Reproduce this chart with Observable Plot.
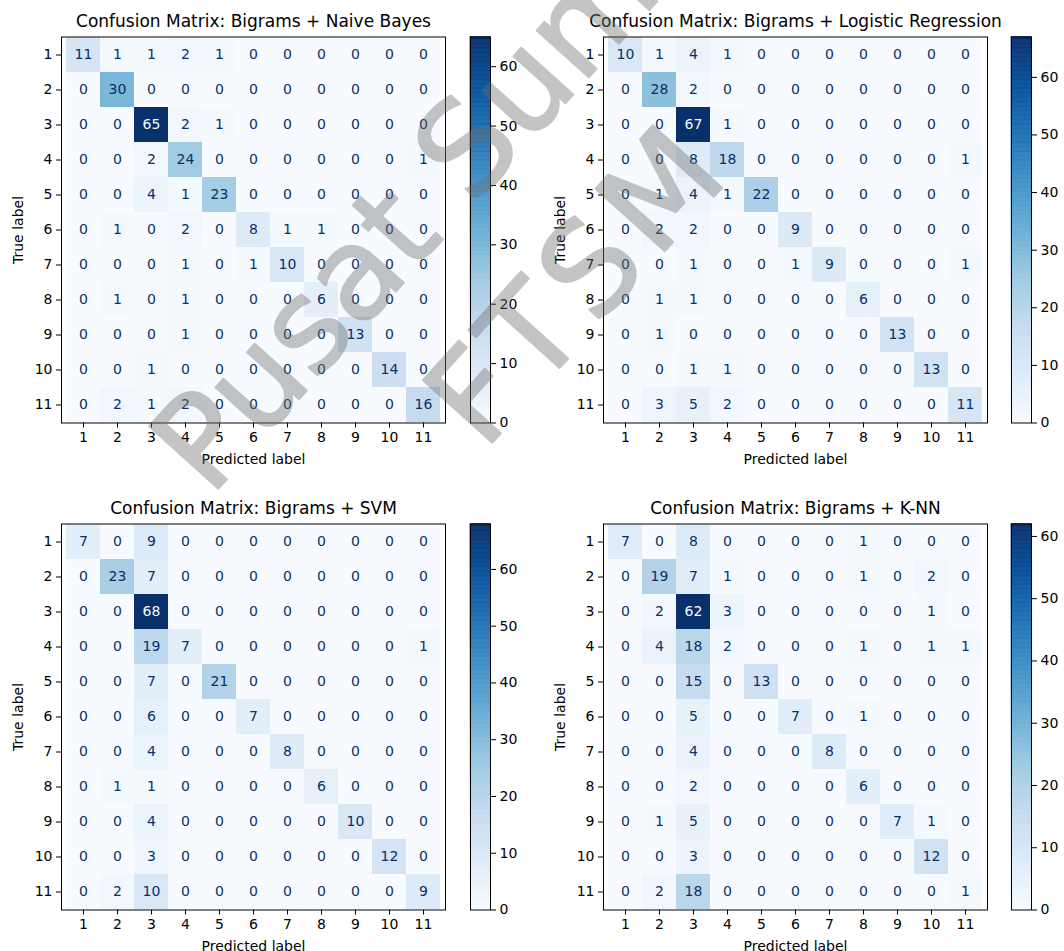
<!DOCTYPE html>
<html>
<head>
<meta charset="utf-8">
<script src="https://cdn.jsdelivr.net/npm/d3@7"></script>
<script src="https://cdn.jsdelivr.net/npm/@observablehq/plot@0.6"></script>
<style>
html, body { margin: 0; padding: 0; background: #fff; }
#chart { position: relative; width: 1064px; height: 951px; overflow: hidden; background: #fff; font-family: "DejaVu Sans"; }
#chart > svg { position: absolute; margin: 0; }
</style>
</head>
<body>
<div id="chart"></div>
<script>
// ---------- data ----------
const classLabels = ["1","2","3","4","5","6","7","8","9","10","11"];

const titles = [
  "Confusion Matrix: Bigrams + Naive Bayes",
  "Confusion Matrix: Bigrams + Logistic Regression",
  "Confusion Matrix: Bigrams + SVM",
  "Confusion Matrix: Bigrams + K-NN"
];

const naiveBayes = [
  [11, 1, 1, 2, 1, 0, 0, 0, 0, 0, 0],
  [0, 30, 0, 0, 0, 0, 0, 0, 0, 0, 0],
  [0, 0, 65, 2, 1, 0, 0, 0, 0, 0, 0],
  [0, 0, 2, 24, 0, 0, 0, 0, 0, 0, 1],
  [0, 0, 4, 1, 23, 0, 0, 0, 0, 0, 0],
  [0, 1, 0, 2, 0, 8, 1, 1, 0, 0, 0],
  [0, 0, 0, 1, 0, 1, 10, 0, 0, 0, 0],
  [0, 1, 0, 1, 0, 0, 0, 6, 0, 0, 0],
  [0, 0, 0, 1, 0, 0, 0, 0, 13, 0, 0],
  [0, 0, 1, 0, 0, 0, 0, 0, 0, 14, 0],
  [0, 2, 1, 2, 0, 0, 0, 0, 0, 0, 16]
];

const logisticRegression = [
  [10, 1, 4, 1, 0, 0, 0, 0, 0, 0, 0],
  [0, 28, 2, 0, 0, 0, 0, 0, 0, 0, 0],
  [0, 0, 67, 1, 0, 0, 0, 0, 0, 0, 0],
  [0, 0, 8, 18, 0, 0, 0, 0, 0, 0, 1],
  [0, 1, 4, 1, 22, 0, 0, 0, 0, 0, 0],
  [0, 2, 2, 0, 0, 9, 0, 0, 0, 0, 0],
  [0, 0, 1, 0, 0, 1, 9, 0, 0, 0, 1],
  [0, 1, 1, 0, 0, 0, 0, 6, 0, 0, 0],
  [0, 1, 0, 0, 0, 0, 0, 0, 13, 0, 0],
  [0, 0, 1, 1, 0, 0, 0, 0, 0, 13, 0],
  [0, 3, 5, 2, 0, 0, 0, 0, 0, 0, 11]
];

const svm = [
  [7, 0, 9, 0, 0, 0, 0, 0, 0, 0, 0],
  [0, 23, 7, 0, 0, 0, 0, 0, 0, 0, 0],
  [0, 0, 68, 0, 0, 0, 0, 0, 0, 0, 0],
  [0, 0, 19, 7, 0, 0, 0, 0, 0, 0, 1],
  [0, 0, 7, 0, 21, 0, 0, 0, 0, 0, 0],
  [0, 0, 6, 0, 0, 7, 0, 0, 0, 0, 0],
  [0, 0, 4, 0, 0, 0, 8, 0, 0, 0, 0],
  [0, 1, 1, 0, 0, 0, 0, 6, 0, 0, 0],
  [0, 0, 4, 0, 0, 0, 0, 0, 10, 0, 0],
  [0, 0, 3, 0, 0, 0, 0, 0, 0, 12, 0],
  [0, 2, 10, 0, 0, 0, 0, 0, 0, 0, 9]
];

const knn = [
  [7, 0, 8, 0, 0, 0, 0, 1, 0, 0, 0],
  [0, 19, 7, 1, 0, 0, 0, 1, 0, 2, 0],
  [0, 2, 62, 3, 0, 0, 0, 0, 0, 1, 0],
  [0, 4, 18, 2, 0, 0, 0, 1, 0, 1, 1],
  [0, 0, 15, 0, 13, 0, 0, 0, 0, 0, 0],
  [0, 0, 5, 0, 0, 7, 0, 1, 0, 0, 0],
  [0, 0, 4, 0, 0, 0, 8, 0, 0, 0, 0],
  [0, 0, 2, 0, 0, 0, 0, 6, 0, 0, 0],
  [0, 1, 5, 0, 0, 0, 0, 0, 7, 1, 0],
  [0, 0, 3, 0, 0, 0, 0, 0, 0, 12, 0],
  [0, 2, 18, 0, 0, 0, 0, 0, 0, 0, 1]
];

const xAxisLabel = "Predicted label";
const yAxisLabel = "True label";
const watermarkLines = ["Pusat Sumber", "FTSM"];

// matplotlib "Blues" anchor colours
const BLUES = ["#f7fbff","#deebf7","#c6dbef","#9ecae1","#6baed6","#4292c6","#2171b5","#08519c","#08306b"];

// ---------- layout ----------
const FW = 384, FH = 386;          // frame size of each matrix
const ML = 61, MT = 36.5, MR = 20, MB = 52;
const CBW = 20;
const panels = [
  {matrix: naiveBayes,         title: titles[0], fx: 61,    fy: 36.5,  cb: 470},
  {matrix: logisticRegression, title: titles[1], fx: 602.7, fy: 36.5,  cb: 1011},
  {matrix: svm,                title: titles[2], fx: 61,    fy: 523.3, cb: 470},
  {matrix: knn,                title: titles[3], fx: 602.7, fy: 523.3, cb: 1011}
];
const watermarkLayout = [
  {x: 210, y: 498, spacing: 0},
  {x: 484, y: 452, spacing: 9}
];

const chart = document.getElementById("chart");
const FONT = "DejaVu Sans";

function colorScale(vmin, vmax) {
  return {
    type: "linear",
    domain: BLUES.map((_, i) => vmin + i * (vmax - vmin) / (BLUES.length - 1)),
    range: BLUES,
    interpolate: "rgb",
    clamp: true
  };
}

for (const p of panels) {
  const flat = p.matrix.flat();
  const vmin = d3.min(flat), vmax = d3.max(flat);
  const thr = (vmin + vmax) / 2;
  const cells = p.matrix.flatMap((row, i) => row.map((v, j) => ({t: classLabels[i], p: classLabels[j], v})));

  const heat = Plot.plot({
    width: ML + FW + MR, height: MT + FH + MB,
    marginLeft: ML, marginTop: MT, marginRight: MR, marginBottom: MB,
    style: {fontFamily: FONT, fontSize: "14px", color: "black", background: "transparent", overflow: "visible"},
    x: {type: "band", domain: classLabels, padding: 0, axis: null},
    y: {type: "band", domain: classLabels, padding: 0, axis: null},
    color: colorScale(vmin, vmax),
    marks: [
      Plot.cell(cells, {x: "p", y: "t", fill: "v", inset: 0}),
      Plot.text(cells.filter(d => d.v <= thr), {x: "p", y: "t", text: d => String(d.v), fill: BLUES[8], fontSize: 14}),
      Plot.text(cells.filter(d => d.v > thr), {x: "p", y: "t", text: d => String(d.v), fill: BLUES[0], fontSize: 14}),
      Plot.frame({stroke: "black", strokeWidth: 1}),
      Plot.axisX({anchor: "bottom", tickSize: 5, tickPadding: 4, fontSize: 14, label: null}),
      Plot.axisY({anchor: "left", tickSize: 5, tickPadding: 4, fontSize: 14, label: null}),
      Plot.text([p.title], {text: d => d, frameAnchor: "top", textAnchor: "middle", lineAnchor: "middle", dy: -15, fontSize: 17}),
      Plot.text([xAxisLabel], {text: d => d, frameAnchor: "bottom", textAnchor: "middle", lineAnchor: "middle", dy: 37, fontSize: 14}),
      Plot.text([yAxisLabel], {text: d => d, frameAnchor: "left", textAnchor: "middle", lineAnchor: "middle", dx: -43, rotate: -90, fontSize: 14})
    ]
  });
  heat.style.left = (p.fx - ML) + "px";
  heat.style.top = (p.fy - MT) + "px";
  chart.appendChild(heat);

  // colour bar
  const N = 300;
  const slices = d3.range(N).map(i => ({
    x1: 0, x2: 1,
    y1: vmin + i * (vmax - vmin) / N,
    y2: vmin + (i + 1) * (vmax - vmin) / N,
    v: vmin + (i + 0.5) * (vmax - vmin) / N
  }));
  const cbTicks = d3.range(0, vmax + 0.001, 10);
  const cbar = Plot.plot({
    width: CBW + 40, height: MT + FH + MB,
    marginLeft: 0, marginRight: 40, marginTop: MT, marginBottom: MB,
    style: {fontFamily: FONT, fontSize: "14px", color: "black", background: "transparent", overflow: "visible"},
    x: {domain: [0, 1], axis: null},
    y: {domain: [vmin, vmax], axis: null},
    color: colorScale(vmin, vmax),
    marks: [
      Plot.rect(slices, {x1: "x1", x2: "x2", y1: "y1", y2: "y2", fill: "v", stroke: "v", strokeWidth: 0.6}),
      Plot.frame({stroke: "black", strokeWidth: 1}),
      Plot.axisY({anchor: "right", ticks: cbTicks, tickSize: 5, tickPadding: 4, tickFormat: d3.format("d"), fontSize: 14, label: null})
    ]
  });
  cbar.style.left = p.cb + "px";
  cbar.style.top = (p.fy - MT) + "px";
  chart.appendChild(cbar);
}

// watermark overlay
const wm = d3.select(chart).append("svg")
  .attr("width", 1064).attr("height", 951)
  .style("left", "0px").style("top", "0px")
  .style("pointer-events", "none");
wm.selectAll("text")
  .data(watermarkLines.map((t, i) => ({t, ...watermarkLayout[i]})))
  .join("text")
  .attr("transform", d => `translate(${d.x},${d.y}) rotate(-48)`)
  .attr("font-family", FONT)
  .attr("font-size", 128)
  .attr("letter-spacing", d => d.spacing)
  .attr("fill", "#6e6e6e")
  .attr("stroke", "#6e6e6e")
  .attr("stroke-width", 2)
  .attr("stroke-linejoin", "round")
  .attr("opacity", 0.4)
  .text(d => d.t);
</script>
</body>
</html>
